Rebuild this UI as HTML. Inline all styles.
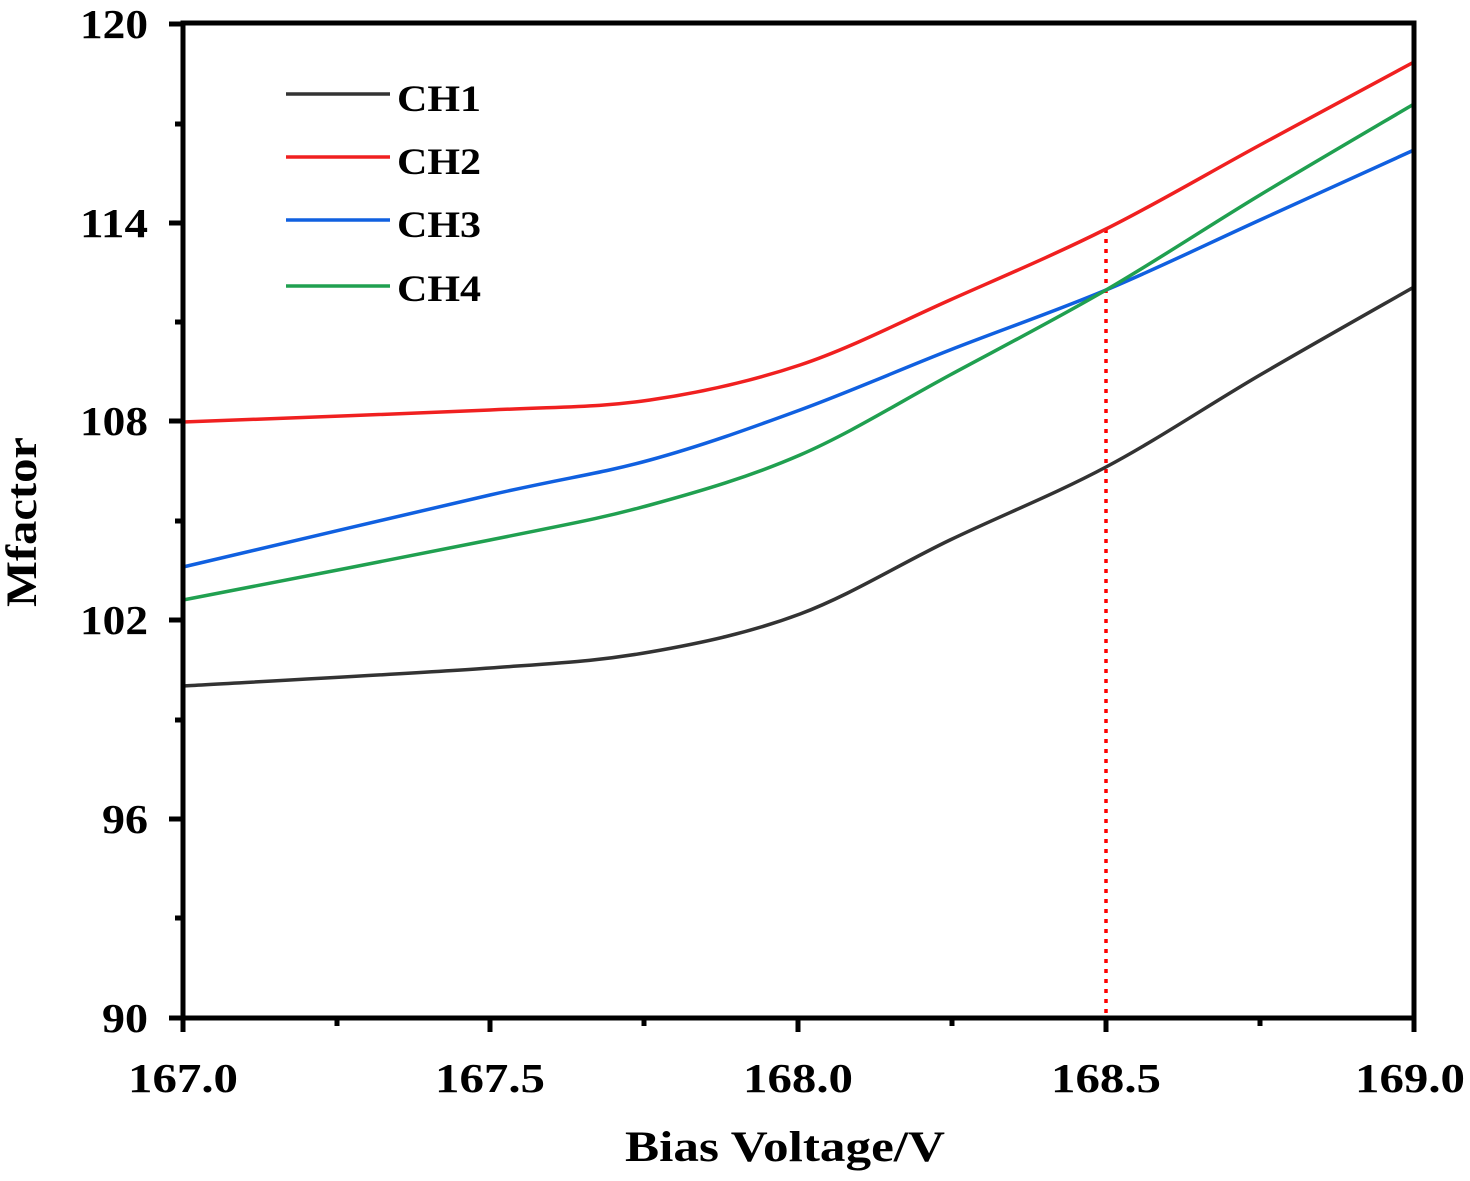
<!DOCTYPE html>
<html><head><meta charset="utf-8"><style>body{margin:0;background:#fff}svg{display:block}</style></head>
<body>
<svg id="s" width="1470" height="1181" xmlns="http://www.w3.org/2000/svg" font-family="Liberation Serif, serif" font-weight="bold">
<g stroke="#000" stroke-width="5">
<line x1="183" y1="1018" x2="183" y2="1032"/><line x1="490" y1="1018" x2="490" y2="1032"/><line x1="798" y1="1018" x2="798" y2="1032"/><line x1="1106" y1="1018" x2="1106" y2="1032"/><line x1="1414" y1="1018" x2="1414" y2="1032"/>
<line x1="337" y1="1018" x2="337" y2="1026"/><line x1="644" y1="1018" x2="644" y2="1026"/><line x1="952" y1="1018" x2="952" y2="1026"/><line x1="1260" y1="1018" x2="1260" y2="1026"/>
<line x1="169" y1="24" x2="183" y2="24"/><line x1="169" y1="223" x2="183" y2="223"/><line x1="169" y1="421" x2="183" y2="421"/><line x1="169" y1="620" x2="183" y2="620"/><line x1="169" y1="819" x2="183" y2="819"/><line x1="169" y1="1018" x2="183" y2="1018"/>
<line x1="175" y1="124" x2="183" y2="124"/><line x1="175" y1="322" x2="183" y2="322"/><line x1="175" y1="521" x2="183" y2="521"/><line x1="175" y1="720" x2="183" y2="720"/><line x1="175" y1="918" x2="183" y2="918"/>
</g>
<line x1="1106" y1="229" x2="1106" y2="1014" stroke="#f00" stroke-width="3.5" stroke-dasharray="4,6"/>
<g id="curves" fill="none" stroke-width="3.5"></g>
<rect x="183" y="23" width="1231" height="995" fill="none" stroke="#000" stroke-width="5"/>
<g stroke-width="3.5">
<line x1="286" y1="94" x2="390" y2="94" stroke="#333"/>
<line x1="286" y1="157" x2="390" y2="157" stroke="#f02020"/>
<line x1="286" y1="220" x2="390" y2="220" stroke="#1060e0"/>
<line x1="286" y1="286" x2="390" y2="286" stroke="#20a050"/>
</g>
<g font-size="37" lengthAdjust="spacingAndGlyphs">
<text x="397" y="111" textLength="84" lengthAdjust="spacingAndGlyphs">CH1</text><text x="397" y="174" textLength="84" lengthAdjust="spacingAndGlyphs">CH2</text><text x="397" y="237" textLength="84" lengthAdjust="spacingAndGlyphs">CH3</text><text x="397" y="301" textLength="84" lengthAdjust="spacingAndGlyphs">CH4</text>
</g>
<g font-size="41">
<text x="80" y="38" textLength="68" lengthAdjust="spacingAndGlyphs">120</text>
<text x="80" y="237" textLength="68" lengthAdjust="spacingAndGlyphs">114</text>
<text x="80" y="435" textLength="68" lengthAdjust="spacingAndGlyphs">108</text>
<text x="80" y="634" textLength="68" lengthAdjust="spacingAndGlyphs">102</text>
<text x="102" y="833" textLength="46" lengthAdjust="spacingAndGlyphs">96</text>
<text x="102" y="1032" textLength="46" lengthAdjust="spacingAndGlyphs">90</text>
</g>
<g font-size="41">
<text x="128" y="1092" textLength="110" lengthAdjust="spacingAndGlyphs">167.0</text>
<text x="435" y="1092" textLength="110" lengthAdjust="spacingAndGlyphs">167.5</text>
<text x="743" y="1092" textLength="110" lengthAdjust="spacingAndGlyphs">168.0</text>
<text x="1051" y="1092" textLength="110" lengthAdjust="spacingAndGlyphs">168.5</text>
<text x="1355" y="1092" textLength="110" lengthAdjust="spacingAndGlyphs">169.0</text>
</g>
<text x="625" y="1161" font-size="43" textLength="320" lengthAdjust="spacingAndGlyphs">Bias Voltage/V</text>
<text transform="translate(36,607) rotate(-90)" font-size="43" textLength="170" lengthAdjust="spacingAndGlyphs">Mfactor</text>
</svg>
<script>
var D=[["#333",[[183,686],[490,668],[650,652],[800,614],[950,540],[1106,467],[1260,375],[1414,287]]],
["#f02020",[[183,422],[490,410],[650,400],[800,365],[950,300],[1106,229],[1260,145],[1414,62]]],
["#1060e0",[[183,567],[490,495],[650,460],[800,410],[950,350],[1106,290],[1260,220],[1414,150]]],
["#20a050",[[183,600],[490,540],[650,505],[800,455],[950,375],[1106,290],[1260,195],[1414,104]]]];
var g=document.getElementById("curves");
D.forEach(function(c){var p=c[1],d="M"+p[0];for(var i=0;i<p.length-1;i++){var a=p[i-1]||p[i],b=p[i],e=p[i+1],f=p[i+2]||e;
d+=" C"+(b[0]+(e[0]-a[0])/6)+","+(b[1]+(e[1]-a[1])/6)+" "+(e[0]-(f[0]-b[0])/6)+","+(e[1]-(f[1]-b[1])/6)+" "+e;}
var el=document.createElementNS("http://www.w3.org/2000/svg","path");el.setAttribute("d",d);el.setAttribute("stroke",c[0]);g.appendChild(el);});
</script>
</body></html>
